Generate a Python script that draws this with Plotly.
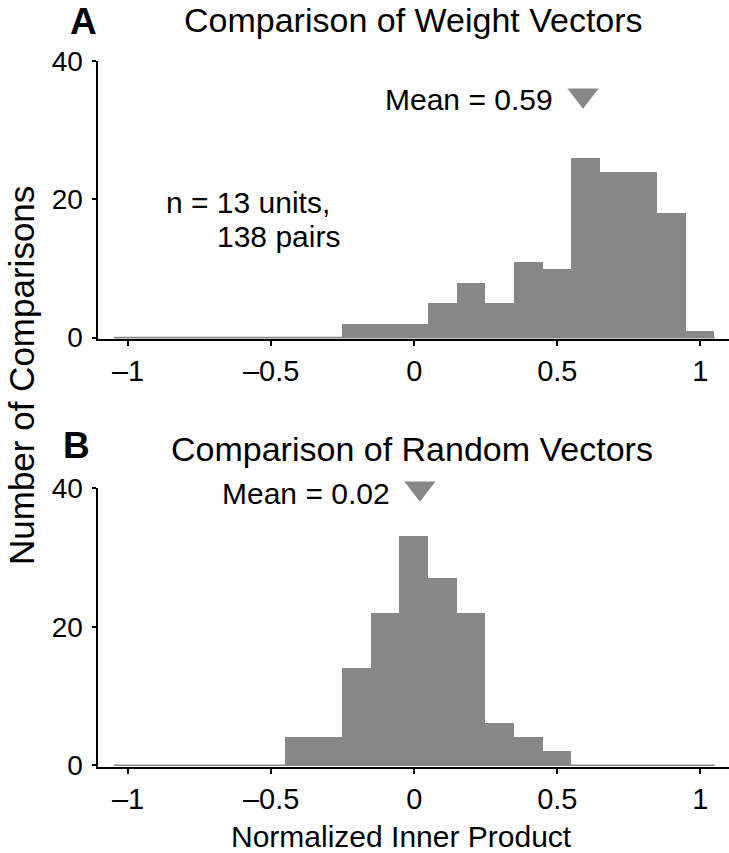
import plotly.graph_objects as go

# ---- data ----
bin_centers = [-1.0, -0.9, -0.8, -0.7, -0.6, -0.5, -0.4, -0.3, -0.2, -0.1,
               0.0, 0.1, 0.2, 0.3, 0.4, 0.5, 0.6, 0.7, 0.8, 0.9, 1.0]
weight_counts = [0, 0, 0, 0, 0, 0, 0, 0, 2, 2, 2, 5, 8, 5, 11, 10, 26, 24, 24, 18, 1]
random_counts = [0, 0, 0, 0, 0, 0, 4, 4, 14, 22, 33, 27, 22, 6, 4, 2, 0, 0, 0, 0, 0]
bin_width = 0.1
weight_mean = 0.59
random_mean = 0.02
x_tickvals = [-1, -0.5, 0, 0.5, 1]
x_ticktext = ["\u20131", "\u20130.5", "0", "0.5", "1"]
y_tickvals = [0, 20, 40]

FONT = "Liberation Sans, Arial, Helvetica, sans-serif"
GRAY = "#878787"
W, H = 729, 853

fig = go.Figure()

edges = [bin_centers[0] - bin_width / 2, bin_centers[-1] + bin_width / 2]

for counts, xa, ya in [(weight_counts, "x", "y"), (random_counts, "x2", "y2")]:
    # zero-count baseline of the histogram
    fig.add_trace(go.Scatter(x=edges, y=[0, 0], mode="lines",
                             line=dict(color=GRAY, width=1.6),
                             xaxis=xa, yaxis=ya, showlegend=False, hoverinfo="skip"))
    fig.add_trace(go.Bar(x=bin_centers, y=counts, width=bin_width,
                         marker=dict(color=GRAY, line=dict(width=0)),
                         xaxis=xa, yaxis=ya, showlegend=False))

# mean markers
fig.add_trace(go.Scatter(x=[weight_mean], y=[35], mode="markers",
                         marker=dict(symbol="triangle-down", size=27, color=GRAY),
                         xaxis="x", yaxis="y", showlegend=False, cliponaxis=False))
fig.add_trace(go.Scatter(x=[random_mean], y=[40], mode="markers",
                         marker=dict(symbol="triangle-down", size=27, color=GRAY),
                         xaxis="x2", yaxis="y2", showlegend=False, cliponaxis=False))

x_left = 98.4 / W
xaxis_common = dict(range=[-1.1035, 1.1], domain=[x_left, 1], showline=True,
                    linecolor="black", linewidth=2, ticks="outside", ticklen=5,
                    tickwidth=2, tickcolor="black", tickvals=x_tickvals,
                    ticktext=x_ticktext, showgrid=False, zeroline=False,
                    tickfont=dict(family=FONT, size=29, color="black"),
                    ticklabelstandoff=0)
yaxis_common = dict(range=[-0.2, 40], showline=True, linecolor="black", linewidth=2,
                    ticks="outside", ticklen=4, tickwidth=2, tickcolor="black",
                    tickvals=y_tickvals, showgrid=False, zeroline=False,
                    tickfont=dict(family=FONT, size=28, color="black"),
                    ticklabelstandoff=4)

fig.update_layout(
    width=W, height=H,
    margin=dict(l=0, r=0, t=0, b=0, autoexpand=False),
    paper_bgcolor="white", plot_bgcolor="white",
    bargap=0,
    xaxis=dict(**xaxis_common, anchor="y"),
    yaxis=dict(**yaxis_common, domain=[1 - 339 / H, 1 - 60.7 / H], anchor="x"),
    xaxis2=dict(**xaxis_common, anchor="y2"),
    yaxis2=dict(**yaxis_common, domain=[1 - 766.7 / H, 1 - 488.3 / H], anchor="x2"),
)

ann = []
def txt(text, x, y, size, xanchor="center", bold=False, **kw):
    ann.append(dict(text=f"<b>{text}</b>" if bold else text, x=x, y=y,
                    xref=kw.pop("xref", "paper"), yref=kw.pop("yref", "paper"),
                    xanchor=xanchor, yanchor="middle", showarrow=False,
                    font=dict(family=FONT, size=size, color="black"), **kw))

# panel letters and titles
txt("A", 83.5 / W, 1 - 21.5 / H, 37, bold=True)
txt("B", 76.5 / W, 1 - 445 / H, 37, bold=True)
txt("Comparison of Weight Vectors", 413.5 / W, 1 - 19.5 / H, 34)
txt("Comparison of Random Vectors", 412 / W, 1 - 449 / H, 34)
# n text
txt("n = 13 units,", 163.7 / W, 1 - 203 / H, 30, xanchor="left")
txt("138 pairs", 214.7 / W, 1 - 236 / H, 30, xanchor="left")
# mean labels
txt(f"Mean = {weight_mean:.2f}", weight_mean, 35, 30, xanchor="right",
    xref="x", yref="y", xshift=-28, yshift=-4)
txt(f"Mean = {random_mean:.2f}", random_mean, 40, 30, xanchor="right",
    xref="x2", yref="y2", xshift=-28, yshift=-5)
# axis titles
txt("Normalized Inner Product", 401 / W, 1 - 836 / H, 30)
ann.append(dict(text="Number of Comparisons", x=21.5 / W, y=1 - 375.5 / H,
                xref="paper", yref="paper", xanchor="center", yanchor="middle",
                textangle=-90, showarrow=False,
                font=dict(family=FONT, size=35, color="black")))

fig.update_layout(annotations=ann)
fig.write_html("out.html", config={"displayModeBar": False},
               post_script="document.body.style.margin='0';document.body.style.overflow='hidden';")
